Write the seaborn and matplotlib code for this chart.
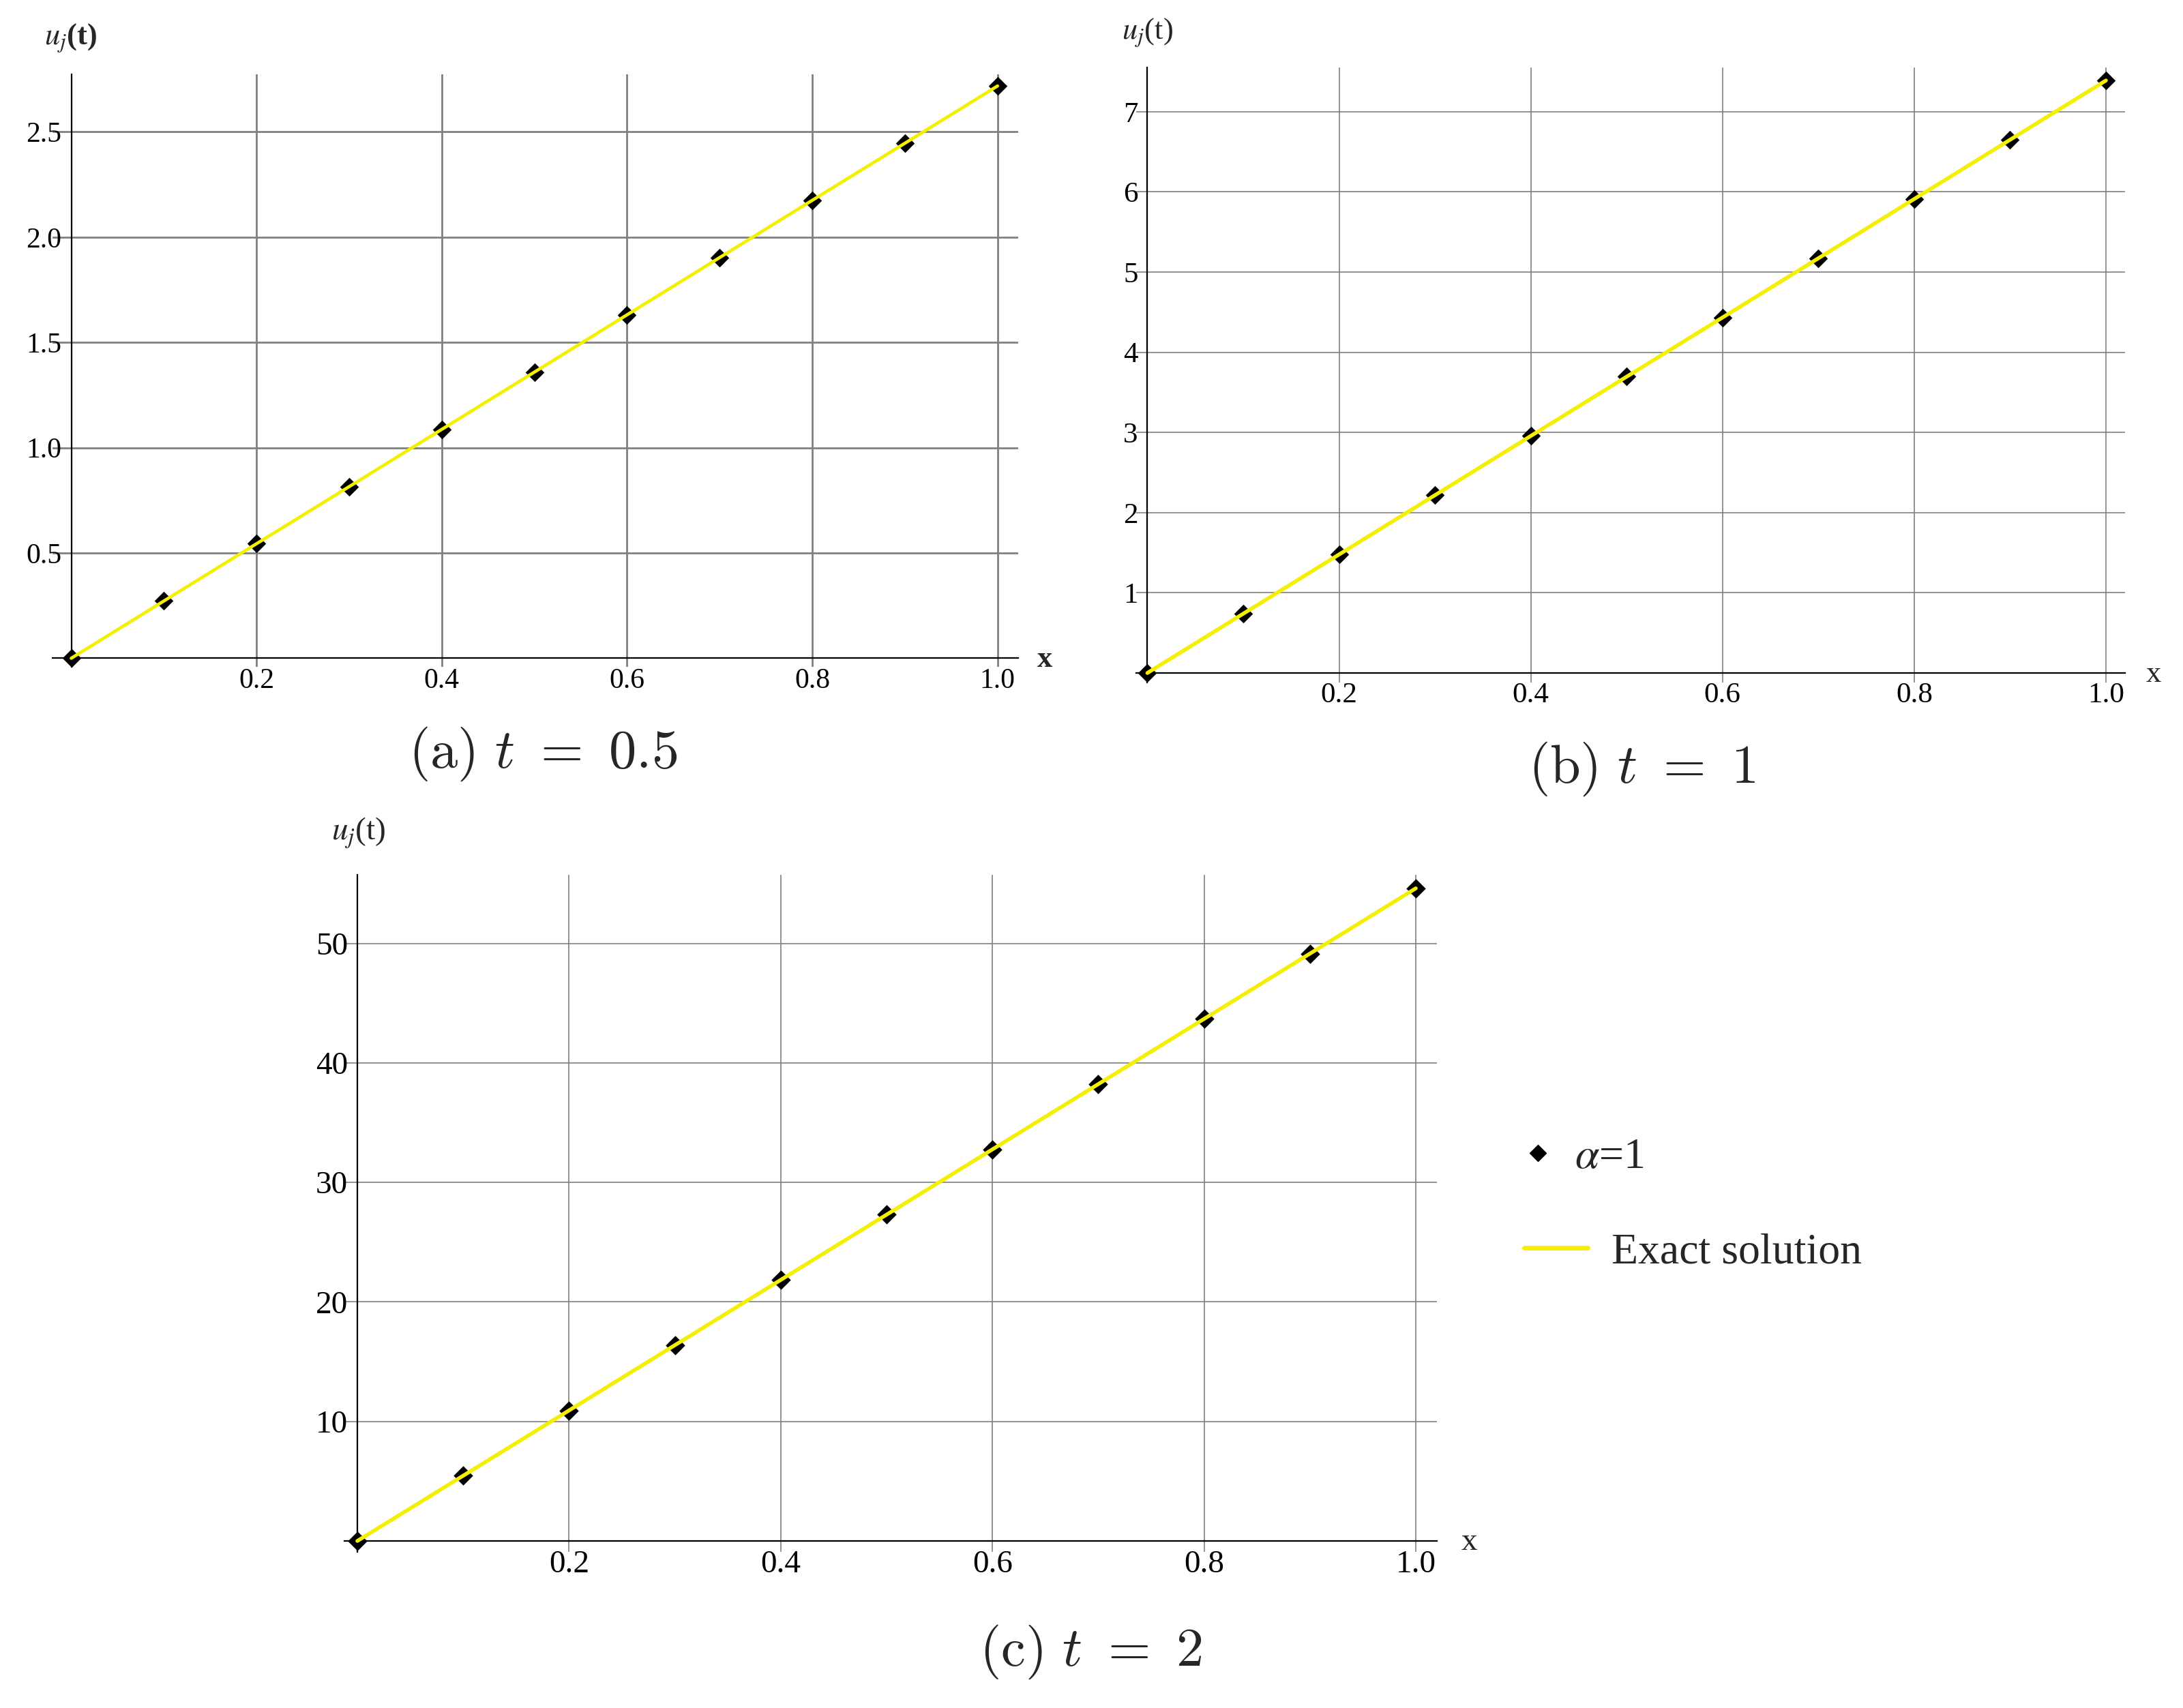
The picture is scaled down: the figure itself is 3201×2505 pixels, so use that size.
import matplotlib
matplotlib.use("Agg")
import matplotlib.pyplot as plt
from matplotlib.ticker import FixedLocator, MultipleLocator
from matplotlib.lines import Line2D
import pandas as pd
import seaborn as sns

# ---------------- data ----------------
x_nodes = [0.0, 0.1, 0.2, 0.3, 0.4, 0.5, 0.6, 0.7, 0.8, 0.9, 1.0]
u_t05 = [0.0, 0.272, 0.544, 0.815, 1.087, 1.359, 1.631, 1.903, 2.175, 2.446, 2.718]
u_t1 = [0.0, 0.739, 1.478, 2.217, 2.956, 3.695, 4.433, 5.172, 5.911, 6.650, 7.389]
u_t2 = [0.0, 5.460, 10.920, 16.380, 21.839, 27.299, 32.759, 38.219, 43.679, 49.139, 54.598]
exact_t05 = [0.0, 0.272, 0.544, 0.815, 1.087, 1.359, 1.631, 1.903, 2.175, 2.446, 2.718]
exact_t1 = [0.0, 0.739, 1.478, 2.217, 2.956, 3.695, 4.433, 5.172, 5.911, 6.650, 7.389]
exact_t2 = [0.0, 5.460, 10.920, 16.380, 21.839, 27.299, 32.759, 38.219, 43.679, 49.139, 54.598]

x_ticks = [0.2, 0.4, 0.6, 0.8, 1.0]
x_tick_labels = ["0.2", "0.4", "0.6", "0.8", "1.0"]
y_ticks_a = [0.5, 1.0, 1.5, 2.0, 2.5]
y_tick_labels_a = ["0.5", "1.0", "1.5", "2.0", "2.5"]
y_ticks_b = [1, 2, 3, 4, 5, 6, 7]
y_tick_labels_b = ["1", "2", "3", "4", "5", "6", "7"]
y_ticks_c = [10, 20, 30, 40, 50]
y_tick_labels_c = ["10", "20", "30", "40", "50"]

captions = [r"$\mathrm{(a)}\ t\ =\ 0.5$", r"$\mathrm{(b)}\ t\ =\ 1$", r"$\mathrm{(c)}\ t\ =\ 2$"]
y_label = r"$u_{j}$(t)"
x_label = "x"
legend_labels = [r"$\alpha$=1", "Exact solution"]

# ---------------- style ----------------
sns.set_style("white")
plt.rcParams["font.family"] = ["Liberation Serif", "DejaVu Serif"]
plt.rcParams["mathtext.fontset"] = "stix"

W, H = 3201, 2505
DPI = 100
fig = plt.figure(figsize=(W / DPI, H / DPI), dpi=DPI)
fig.patch.set_facecolor("white")

YELLOW = "#F5F000"
GRID = "#808080"

# layout: origin px, scale px/unit, limits
panels = [
    dict(ox=104.5, oy=965.4, sx=1358.2, sy=308.8, xl=-0.02, xr=1.022, yb=-0.04, yt=2.773,
         y=u_t05, e=exact_t05, yt_=y_ticks_a, ytl=y_tick_labels_a, yminor=0.1, fs=30,
         glw=2.0, llw=3.4, ms=14, lab_xy=(104, 56), lab_fs=32, xlab_xy=(1532, 967),
         cap=captions[0], cap_xy=(796, 1106), bold=True),
    dict(ox=1682.4, oy=987, sx=1405.6, sy=117.6, xl=-0.012, xr=1.020, yb=-0.12, yt=7.547,
         y=u_t1, e=exact_t1, yt_=y_ticks_b, ytl=y_tick_labels_b, yminor=0.2, fs=31,
         glw=1.2, llw=4.0, ms=14, lab_xy=(1682, 48), lab_fs=32, xlab_xy=(3158, 989),
         cap=captions[1], cap_xy=(2408, 1128), bold=False),
    dict(ox=524, oy=2260, sx=1552, sy=17.53, xl=-0.012, xr=1.020, yb=-0.9, yt=55.73,
         y=u_t2, e=exact_t2, yt_=y_ticks_c, ytl=y_tick_labels_c, yminor=2, fs=34,
         glw=1.2, llw=4.0, ms=14.5, lab_xy=(526, 1222), lab_fs=34, xlab_xy=(2154, 2262),
         cap=captions[2], cap_xy=(1600, 2423), bold=False),
]

for p in panels:
    left = (p["ox"] + p["xl"] * p["sx"]) / W
    width = (p["xr"] - p["xl"]) * p["sx"] / W
    bottom = 1 - (p["oy"] - p["yb"] * p["sy"]) / H
    height = (p["yt"] - p["yb"]) * p["sy"] / H
    ax = fig.add_axes([left, bottom, width, height])

    df = pd.DataFrame({"x": x_nodes, "u": p["y"], "exact": p["e"]})
    sns.scatterplot(data=df, x="x", y="u", marker="D", s=p["ms"] ** 2, color="black",
                    edgecolor="black", linewidth=0, ax=ax, zorder=3, clip_on=False)
    sns.lineplot(data=df, x="x", y="exact", color=YELLOW, lw=p["llw"], ax=ax, zorder=4)

    ax.set_xlim(p["xl"], p["xr"])
    ax.set_ylim(p["yb"], p["yt"])
    ax.set_xlabel("")
    ax.set_ylabel("")

    for s in ["top", "right"]:
        ax.spines[s].set_visible(False)
    ax.spines["left"].set_position(("data", 0))
    ax.spines["bottom"].set_position(("data", 0))
    for s in ["left", "bottom"]:
        ax.spines[s].set_color("black")
        ax.spines[s].set_linewidth(1.6)
        ax.spines[s].set_zorder(2.5)

    ax.xaxis.set_major_locator(FixedLocator(x_ticks))
    ax.set_xticklabels(x_tick_labels)
    ax.xaxis.set_minor_locator(MultipleLocator(0.05))
    ax.yaxis.set_major_locator(FixedLocator(p["yt_"]))
    ax.set_yticklabels(p["ytl"])
    ax.yaxis.set_minor_locator(MultipleLocator(p["yminor"]))

    ax.tick_params(axis="both", which="major", direction="in", length=10, width=1.5,
                   labelsize=p["fs"], colors="black", pad=10)
    ax.tick_params(axis="both", which="minor", direction="in", length=5, width=1.2,
                   colors="black")
    ax.grid(True, which="major", color=GRID, lw=p["glw"])
    ax.set_axisbelow(True)
    ax.patch.set_alpha(0)

    fw = "bold" if p["bold"] else "normal"
    fig.text(p["lab_xy"][0] / W, 1 - p["lab_xy"][1] / H, y_label, fontsize=p["lab_fs"],
             ha="center", va="center", fontweight=fw)
    fig.text(p["xlab_xy"][0] / W, 1 - p["xlab_xy"][1] / H, x_label, fontsize=p["lab_fs"],
             ha="center", va="center", fontweight=fw)
    fig.text(p["cap_xy"][0] / W, 1 - p["cap_xy"][1] / H, p["cap"], fontsize=58,
             ha="center", va="center", math_fontfamily="cm")

# legend: two rows placed separately to match the reference offsets
leg_font = {"family": ["Liberation Serif"], "size": 46}
leg1 = fig.legend([Line2D([], [], marker="D", color="black", ls="none", ms=12)],
                  [legend_labels[0]], loc="center left",
                  bbox_to_anchor=(2229 / W, 1 - 1698 / H), frameon=False, prop=leg_font,
                  handlelength=0.8, handletextpad=0.45, borderpad=0, borderaxespad=0)
leg2 = fig.legend([Line2D([], [], color=YELLOW, lw=5)],
                  [legend_labels[1]], loc="center left",
                  bbox_to_anchor=(2235 / W, 1 - 1837 / H), frameon=False, prop=leg_font,
                  handlelength=1.45, handletextpad=0.55, borderpad=0, borderaxespad=0)

fig.savefig("out.png", dpi=DPI, facecolor="white")
